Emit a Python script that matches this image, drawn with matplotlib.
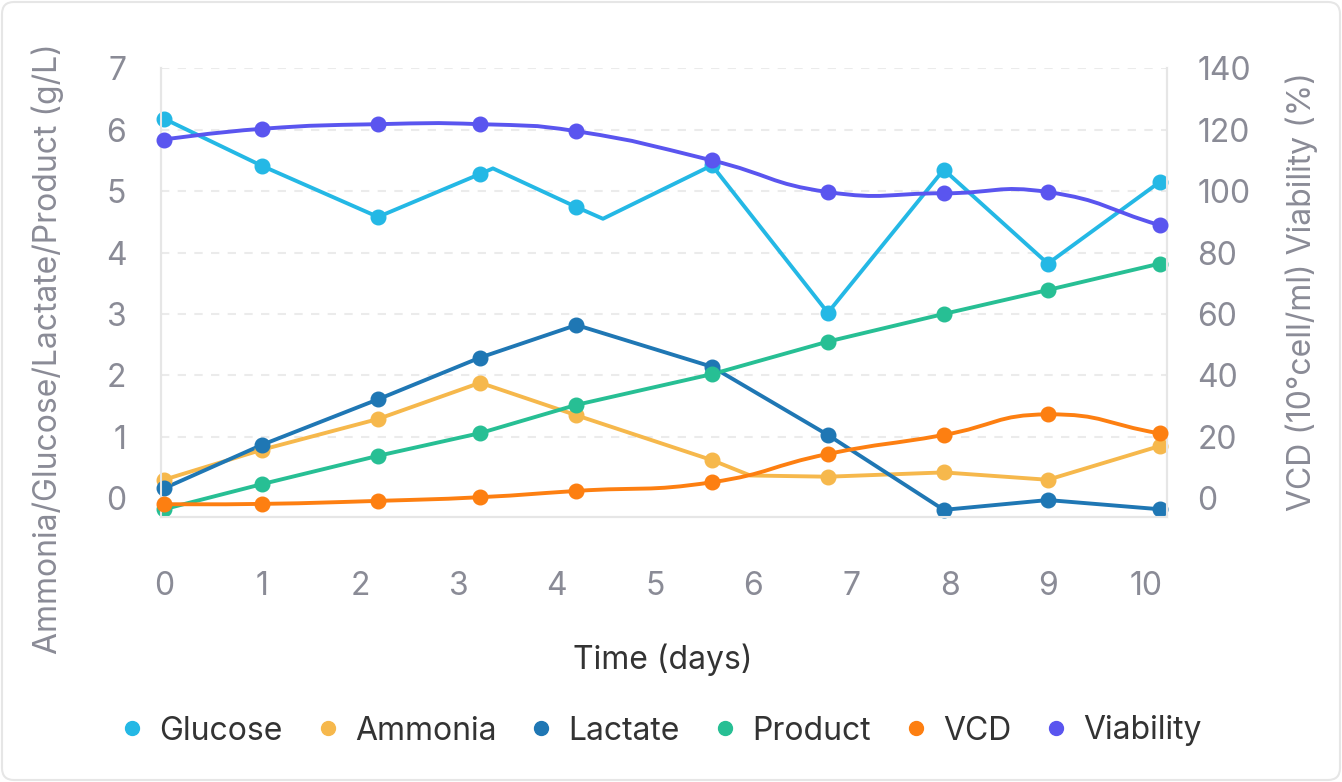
#!/usr/bin/env python3

import numpy as np
import matplotlib
matplotlib.use("Agg")
import matplotlib.pyplot as plt
from matplotlib.path import Path
from matplotlib.patches import PathPatch, FancyBboxPatch
from matplotlib.lines import Line2D
from matplotlib.transforms import IdentityTransform

plt.rcParams["font.family"] = ["Inter", "DejaVu Sans"]

# sampling days shared by the marked points
days = [0, 1, 2.18, 3.22, 4.2, 5.58, 6.76, 7.94, 9.0, 10.14]

# glucose has two extra vertices without a symbol
glucose_days = [0, 1, 2.18, 3.22, 3.35, 4.2, 4.47, 5.58, 6.76, 7.94, 9.0, 10.14]
glucose = [6.18, 5.41, 4.58, 5.28, 5.37, 4.74, 4.55, 5.42, 3.02, 5.35, 3.82, 5.15]
glucose_marked = [1, 1, 1, 1, 0, 1, 0, 1, 1, 1, 1, 1]

# ammonia has one extra vertex without a symbol
ammonia_days = [0, 1, 2.18, 3.22, 4.2, 5.58, 5.97, 6.76, 7.94, 9.0, 10.14]
ammonia = [0.30, 0.79, 1.29, 1.88, 1.35, 0.62, 0.37, 0.35, 0.42, 0.30, 0.85]
ammonia_marked = [1, 1, 1, 1, 1, 1, 0, 1, 1, 1, 1]

lactate = [0.16, 0.87, 1.61, 2.29, 2.82, 2.14, 1.03, -0.19, -0.03, -0.18]
product = [-0.18, 0.23, 0.69, 1.06, 1.52, 2.02, 2.55, 3.00, 3.39, 3.82]

# right axis series
vcd = [-1.95, -1.85, -0.87, 0.33, 2.37, 5.2, 14.4, 20.6, 27.3, 21.1]
viability = [116.8, 120.3, 121.8, 121.8, 119.5, 110.0, 99.7, 99.3, 99.7, 88.9]

x_ticks = list(range(0, 11))
left_ticks = list(range(0, 8))
right_ticks = list(range(0, 141, 20))

series_names = ["Glucose", "Ammonia", "Lactate", "Product", "VCD", "Viability"]
colors = {
    "Glucose": "#24b8e5",
    "Ammonia": "#f6b84c",
    "Lactate": "#1f77b4",
    "Product": "#27bf94",
    "VCD": "#fd7f11",
    "Viability": "#5a55ef",
}

TICK_GREY = "#8a8b96"
DARK = "#333333"
W, H = 1342, 782
FS = 23


def smooth_line(ax, xs, ys, color, smooth=0.5, lw=2.8, z=3):
    """Draw a bezier-smoothed line through the points (in pixel space)."""
    pts = ax.transData.transform(np.column_stack([xs, ys]))
    n = len(pts)
    verts = [pts[0]]
    codes = [Path.MOVETO]
    cp_after = pts[0]
    for i in range(1, n):
        prev = pts[i - 1]
        cur = pts[i]
        nxt = pts[i + 1] if i + 1 < n else cur
        v = nxt - prev
        d0 = np.hypot(*(cur - prev))
        d1 = np.hypot(*(nxt - cur))
        r = d1 / (d0 + d1) if (d0 + d1) > 0 else 0.5
        cp_before = cur - v * smooth * (1 - r)
        verts += [cp_after, cp_before, cur]
        codes += [Path.CURVE4] * 3
        cp_after = cur + v * smooth * r
    verts = ax.transData.inverted().transform(np.array(verts))
    patch = PathPatch(Path(verts, codes), facecolor="none", edgecolor=color,
                      lw=lw, zorder=z, capstyle="round", joinstyle="round")
    ax.add_patch(patch)


def plot_chart():
    fig = plt.figure(figsize=(W / 100, H / 100), dpi=100)
    fig.patch.set_facecolor("white")

    # card outline
    card = FancyBboxPatch((2, 2), W - 4, H - 4,
                          boxstyle="round,pad=0,rounding_size=12",
                          transform=IdentityTransform(), facecolor="white",
                          edgecolor="#e6e6e6", lw=1.5, zorder=0)
    fig.add_artist(card)

    left, right, top, bottom = 161, 1166.7, 68.3, 517.3
    ax = fig.add_axes([left / W, (H - bottom) / H, (right - left) / W, (bottom - top) / H])
    ax.set_facecolor("none")
    ax2 = ax.twinx()

    ax.set_xlim(-0.03, 10.21)
    ax.set_ylim(-0.311, 7.0)
    ax2.set_ylim(-6.22, 140.0)

    # axes styling
    for a in (ax, ax2):
        for s in a.spines.values():
            s.set_color("#e6e6e6")
            s.set_linewidth(1.5)
        a.spines["top"].set_visible(False)
    ax.set_xticks(x_ticks)
    ax.set_xticklabels([str(t) for t in x_ticks])
    ax.set_yticks(left_ticks)
    ax2.set_yticks(right_ticks)
    ax.tick_params(axis="x", length=0, pad=39, labelsize=FS, labelcolor=TICK_GREY)
    ax.tick_params(axis="y", length=0, pad=25, labelsize=FS, labelcolor=TICK_GREY)
    ax2.tick_params(axis="y", length=0, pad=22, labelsize=FS, labelcolor=TICK_GREY)

    ax.grid(True, axis="y", color="#ebebeb", lw=1.5, linestyle=(0, (4, 4)), zorder=0)
    ax.set_axisbelow(True)
    for gl, t in zip(ax.get_ygridlines(), left_ticks):
        gl.set_visible(t != 0)

    lw = 2.8
    ms = 10.5

    # straight lines, left axis
    ax.plot(glucose_days, glucose, color=colors["Glucose"], lw=lw, zorder=3)
    ax.plot(ammonia_days, ammonia, color=colors["Ammonia"], lw=lw, zorder=3)
    ax.plot(days, lactate, color=colors["Lactate"], lw=lw, zorder=3)
    ax.plot(days, product, color=colors["Product"], lw=lw, zorder=3)

    # smooth lines, right axis
    smooth_line(ax2, days, vcd, colors["VCD"], lw=lw)
    smooth_line(ax2, days, viability, colors["Viability"], lw=lw)

    # markers on top
    gx = [d for d, m in zip(glucose_days, glucose_marked) if m]
    gy = [v for v, m in zip(glucose, glucose_marked) if m]
    axm = [d for d, m in zip(ammonia_days, ammonia_marked) if m]
    aym = [v for v, m in zip(ammonia, ammonia_marked) if m]
    ax.plot(gx, gy, "o", color=colors["Glucose"], ms=ms, zorder=5, clip_on=False)
    ax.plot(axm, aym, "o", color=colors["Ammonia"], ms=ms, zorder=5, clip_on=False)
    ax.plot(days, lactate, "o", color=colors["Lactate"], ms=ms, zorder=5, clip_on=False)
    ax.plot(days, product, "o", color=colors["Product"], ms=ms, zorder=6, clip_on=False)
    ax2.plot(days, vcd, "o", color=colors["VCD"], ms=ms, zorder=5, clip_on=False)
    ax2.plot(days, viability, "o", color=colors["Viability"], ms=ms, zorder=5, clip_on=False)

    # axis titles
    fig.text(48 / W, 1 - 349 / H, "Ammonia/Glucose/Lactate/Product (g/L)",
             rotation=90, ha="center", va="center", fontsize=FS, color=TICK_GREY)
    fig.text(1302 / W, 1 - 292 / H, "VCD (10°cell/ml) Viability (%)",
             rotation=90, ha="center", va="center", fontsize=FS, color=TICK_GREY)
    fig.text(663 / W, 1 - 660 / H, "Time (days)", ha="center", va="center",
             fontsize=FS, color=DARK)

    # legend
    handles = [Line2D([], [], marker="o", linestyle="none", color=colors[name],
                      markersize=10) for name in series_names]
    leg = fig.legend(handles, series_names, loc="center",
                     bbox_to_anchor=(663 / W, 1 - 731 / H), ncol=6, frameon=False,
                     fontsize=FS, handlelength=0.5, handletextpad=0.6,
                     columnspacing=1.16)
    for t in leg.get_texts():
        t.set_color(DARK)

    return fig


if __name__ == "__main__":
    fig = plot_chart()
    fig.savefig("out.png", dpi=100)
